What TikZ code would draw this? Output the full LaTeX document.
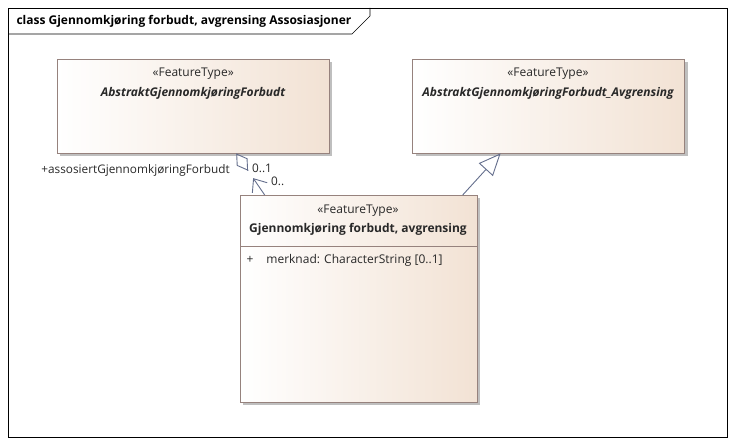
\documentclass[tikz,border=0pt]{standalone}
\usepackage{fontspec}
\setmainfont{Open Sans}
\usetikzlibrary{positioning, shadows, arrows.meta, calc}

\definecolor{boxline}{RGB}{150,130,125}
\definecolor{boxfill}{RGB}{242,226,212}
\definecolor{conn}{RGB}{100,110,140}
\definecolor{txt}{RGB}{40,40,40}

\tikzset{
  feature/.style={rectangle, draw=boxline, left color=white, right color=boxfill,
    minimum width=272pt, minimum height=94pt, inner sep=0pt, anchor=north west,
    drop shadow={shadow xshift=3pt, shadow yshift=-3pt, fill=black!25, opacity=1}},
  stereo/.style={text=txt, font=\fontsize{12}{14}\selectfont},
  aname/.style={text=txt, font=\fontsize{12}{14}\selectfont\bfseries\itshape},
  cname/.style={text=txt, font=\fontsize{12}{14}\selectfont\bfseries},
  attr/.style={text=txt, font=\fontsize{12}{14}\selectfont, anchor=west},
  role/.style={text=txt, font=\fontsize{11.8}{14}\selectfont, inner sep=1pt},
  conn/.style={draw=conn, line width=0.9pt}
}

\begin{document}
\begin{tikzpicture}[x=1pt, y=-1pt, node distance=83pt]
  \useasboundingbox (0,0) rectangle (736,446);

  % frame
  \draw[black, line width=0.7pt] (8,8) rectangle (727,437);
  \draw[black, line width=0.7pt] (8,34) -- (352,34) -- (370,16) -- (370,8);
  \node[cname, anchor=west, text=black] (title) at (13,21)
    {class Gjennomkjøring forbudt, avgrensing Assosiasjoner};

  % classes
  \node[feature]                  (abstr) at (57,59) {};
  \node[feature]                  (abstrAvgr) [right=of abstr] {};
  \node[feature, minimum width=237pt, minimum height=207pt] (gjennom) at (240,195) {};
  \draw[boxline] ([yshift=-51pt]gjennom.north west) -- ([yshift=-51pt]gjennom.north east);

  \node[stereo] (abstrS)     [below=15pt of abstr.north, anchor=center] {«FeatureType»};
  \node[aname]  (abstrN)     at (193,93) {AbstraktGjennomkjøringForbudt};
  \node[stereo] (abstrAvgrS) at (548,74) {«FeatureType»};
  \node[aname]  (abstrAvgrN) at (548,93) {AbstraktGjennomkjøringForbudt\_Avgrensing};
  \node[stereo] (gjennomS)   at (358,211) {«FeatureType»};
  \node[cname]  (gjennomN)   at (358,229) {Gjennomkjøring forbudt, avgrensing};
  \node[attr]   (merknad)    at (243,260) {+\hspace{13pt}merknad: CharacterString [0..1]};

  % connectors
  \draw[conn, -{Triangle[open, length=22pt, width=19pt]}]
    ([xshift=104pt]gjennom.north) -- ([xshift=-48pt]abstrAvgr.south);

  \coordinate (assA) at ([xshift=43pt]abstr.south);
  \coordinate (assB) at ([xshift=-94pt]gjennom.north);
  \draw[conn, {Diamond[open, length=21pt, width=13pt]}-] (assA) -- ($(assA)!21pt!(assB)$);
  \draw[conn, {Straight Barb[length=11pt, width=18pt]}-] ($(assA)!30pt!(assB)$) -- (assB);

  \node[role, anchor=east] (rolle)  at (231,170) {+assosiertGjennomkjøringForbudt};
  \node[role, anchor=west] (multA)  at (251,168) {0..1};
  \node[role, anchor=west] (multB)  at (270,181) {0..};
\end{tikzpicture}
\end{document}
